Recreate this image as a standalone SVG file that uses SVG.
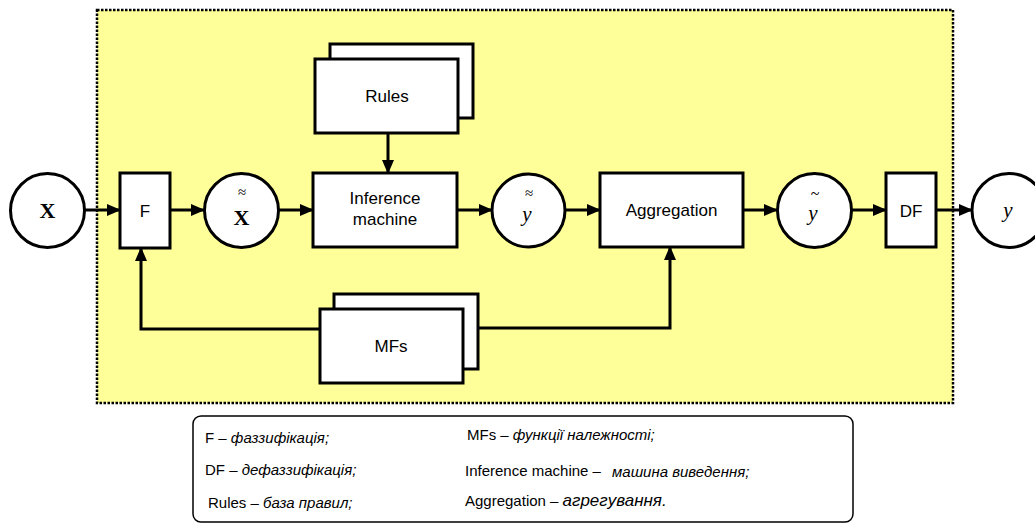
<svg xmlns="http://www.w3.org/2000/svg" width="1035" height="524" viewBox="0 0 1035 524">
<style>
.box{fill:#fff;stroke:#000;stroke-width:3}
.circ{fill:#fff;stroke:#000;stroke-width:3}
.lbl{font-family:"Liberation Sans",Arial,sans-serif;font-size:17px;fill:#000;text-anchor:middle}
.math{font-family:"Liberation Serif","Times New Roman",serif;fill:#000;text-anchor:middle}
.conn{fill:none;stroke:#000;stroke-width:3}
.leg{font-family:"Liberation Sans",Arial,sans-serif;font-size:15px;fill:#000}
.it{font-style:italic}
</style>
<defs>
<marker id="ah" markerUnits="userSpaceOnUse" markerWidth="14" markerHeight="12" refX="13" refY="6" orient="auto">
<path d="M0,0 L14,6 L0,12 Z" fill="#000"/>
</marker>
</defs>
<rect id="frame" x="97" y="10" width="856" height="393" fill="#ffff99" stroke="#000" stroke-width="2.5" stroke-dasharray="2.5 1.5"/>

<g id="connectors">
<line class="conn" x1="85" y1="210" x2="120" y2="210" marker-end="url(#ah)"/>
<line class="conn" x1="170" y1="210" x2="204" y2="210" marker-end="url(#ah)"/>
<line class="conn" x1="279" y1="210" x2="313" y2="210" marker-end="url(#ah)"/>
<line class="conn" x1="457" y1="210" x2="492" y2="210" marker-end="url(#ah)"/>
<line class="conn" x1="565" y1="210" x2="600" y2="210" marker-end="url(#ah)"/>
<line class="conn" x1="743" y1="210" x2="777" y2="210" marker-end="url(#ah)"/>
<line class="conn" x1="852" y1="210" x2="886" y2="210" marker-end="url(#ah)"/>
<line class="conn" x1="936" y1="210" x2="972" y2="210" marker-end="url(#ah)"/>
<line class="conn" x1="388" y1="133" x2="388" y2="173" marker-end="url(#ah)"/>
<polyline class="conn" points="320,329 141,329 141,248" marker-end="url(#ah)"/>
<polyline class="conn" points="478,328 670,328 670,247" marker-end="url(#ah)"/>
</g>

<g id="node-x">
<circle class="circ" cx="47.5" cy="210.5" r="37"/>
<text class="math" x="47.5" y="218" font-size="22" font-weight="bold">X</text>
</g>
<g id="node-f">
<rect class="box" x="120" y="173" width="50" height="75"/>
<text class="lbl" x="145" y="217">F</text>
</g>
<g id="node-xtilde">
<circle class="circ" cx="241.5" cy="210.5" r="37"/>
<text class="math" x="241.5" y="225" font-size="22" font-weight="bold">X</text>
<text class="math" x="242" y="197" font-size="15">≈</text>
</g>
<g id="node-rules">
<rect class="box" x="330" y="44" width="143" height="74"/>
<rect class="box" x="315" y="59" width="143" height="74"/>
<text class="lbl" x="387" y="102">Rules</text>
</g>
<g id="node-inference">
<rect class="box" x="313" y="173" width="144" height="74"/>
<text class="lbl" x="385" y="204">Inference</text>
<text class="lbl" x="385" y="225">machine</text>
</g>
<g id="node-ytilde2">
<circle class="circ" cx="528.5" cy="210.5" r="36.5"/>
<text class="math" x="527" y="221" font-size="21" font-style="italic">y</text>
<text class="math" x="529" y="198" font-size="15">≈</text>
</g>
<g id="node-aggregation">
<rect class="box" x="600" y="173" width="143" height="74"/>
<text class="lbl" x="671.5" y="216">Aggregation</text>
</g>
<g id="node-ytilde">
<circle class="circ" cx="814.5" cy="210.5" r="37"/>
<text class="math" x="813" y="220" font-size="21" font-style="italic">y</text>
<text class="math" x="815" y="199" font-size="16">~</text>
</g>
<g id="node-df">
<rect class="box" x="886" y="173" width="50" height="74"/>
<text class="lbl" x="911" y="217">DF</text>
</g>
<g id="node-y">
<circle class="circ" cx="1009" cy="210.5" r="37"/>
<text class="math" x="1008" y="217" font-size="21" font-style="italic">y</text>
</g>
<g id="node-mfs">
<rect class="box" x="334" y="294" width="144" height="75"/>
<rect class="box" x="320" y="309" width="143" height="74"/>
<text class="lbl" x="391" y="352">MFs</text>
</g>

<g id="legend">
<rect x="193" y="416" width="660" height="106" rx="8" fill="#fff" stroke="#000" stroke-width="1.5"/>
<text class="leg" x="205" y="443">F – <tspan class="it">фаззифікація;</tspan></text>
<text class="leg" x="467" y="440">MFs – <tspan class="it">функції належності;</tspan></text>
<text class="leg" x="205" y="475">DF –  <tspan class="it">дефаззифікація;</tspan></text>
<text class="leg" x="465" y="476" font-size="16">Inference machine –</text>
<text class="leg it" x="612" y="477" font-size="17">машина виведення;</text>
<text class="leg" x="208" y="508">Rules – <tspan class="it">база правил;</tspan></text>
<text class="leg" x="465" y="506" font-size="16">Aggregation – <tspan class="it" font-size="17">агрегування.</tspan></text>
</g>
</svg>
